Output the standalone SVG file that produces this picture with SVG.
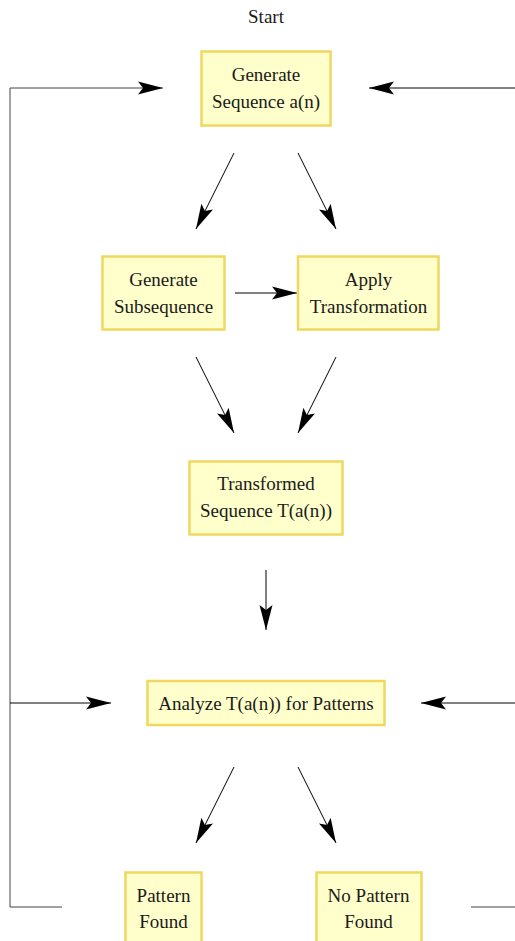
<svg xmlns="http://www.w3.org/2000/svg" width="515" height="941" viewBox="0 0 515 941">
<defs>
<style>
.box{fill:#ffffcc;stroke:#f0d860;stroke-width:2.5}
.t{font-family:"Liberation Serif","Times New Roman",serif;font-size:19px;fill:#1a1a1a;text-anchor:middle}
.c{fill:none;stroke:#000;stroke-width:1}
.loop{fill:none;stroke:#444;stroke-width:1}
</style>
<marker id="ah" markerUnits="userSpaceOnUse" markerWidth="26" markerHeight="14" refX="25" refY="6.5" orient="auto" overflow="visible">
<path d="M0,0 L25,6.5 L0,13 L5,6.5 z" fill="#000"/>
</marker>
</defs>
<rect width="515" height="941" fill="#fff"/>
<text class="t" x="266" y="23">Start</text>
<g id="connectors">
<polyline class="loop" points="62,907 10,907 10,88 163,88" marker-end="url(#ah)"/>
<line class="c" x1="10" y1="703" x2="111" y2="703" marker-end="url(#ah)"/>
<line class="c" x1="515" y1="88" x2="369" y2="88" marker-end="url(#ah)"/>
<line class="c" x1="515" y1="703" x2="421" y2="703" marker-end="url(#ah)"/>
<line class="loop" x1="471" y1="907" x2="515" y2="907"/>
<line class="c" x1="234" y1="153" x2="196" y2="229" marker-end="url(#ah)"/>
<line class="c" x1="298" y1="153" x2="336" y2="229" marker-end="url(#ah)"/>
<line class="c" x1="235" y1="293" x2="297" y2="293" marker-end="url(#ah)"/>
<line class="c" x1="196" y1="357" x2="234" y2="433" marker-end="url(#ah)"/>
<line class="c" x1="336" y1="357" x2="298" y2="433" marker-end="url(#ah)"/>
<line class="c" x1="266" y1="570" x2="266" y2="630" marker-end="url(#ah)"/>
<line class="c" x1="234" y1="767" x2="196" y2="843" marker-end="url(#ah)"/>
<line class="c" x1="298" y1="767" x2="336" y2="843" marker-end="url(#ah)"/>
</g>
<g id="gen-seq">
<rect class="box" x="201.5" y="51.5" width="129" height="74"/>
<text class="t" x="266" y="81">Generate</text>
<text class="t" x="266" y="108">Sequence a(n)</text>
</g>
<g id="gen-subseq">
<rect class="box" x="102.5" y="256.5" width="122" height="73"/>
<text class="t" x="163.5" y="286">Generate</text>
<text class="t" x="163.5" y="313">Subsequence</text>
</g>
<g id="apply-trans">
<rect class="box" x="298" y="256.5" width="140.5" height="73"/>
<text class="t" x="368.5" y="286">Apply</text>
<text class="t" x="368.5" y="313">Transformation</text>
</g>
<g id="transformed">
<rect class="box" x="189.5" y="461.5" width="153" height="73"/>
<text class="t" x="266" y="490">Transformed</text>
<text class="t" x="266" y="517">Sequence T(a(n))</text>
</g>
<g id="analyze">
<rect class="box" x="147.5" y="681" width="237" height="44"/>
<text class="t" x="266" y="710">Analyze T(a(n)) for Patterns</text>
</g>
<g id="pattern-found">
<rect class="box" x="125.5" y="872.5" width="76" height="80"/>
<text class="t" x="163.5" y="902">Pattern</text>
<text class="t" x="163.5" y="928">Found</text>
</g>
<g id="no-pattern">
<rect class="box" x="316.5" y="872.5" width="105" height="80"/>
<text class="t" x="368.5" y="902">No Pattern</text>
<text class="t" x="368.5" y="928">Found</text>
</g>
</svg>
